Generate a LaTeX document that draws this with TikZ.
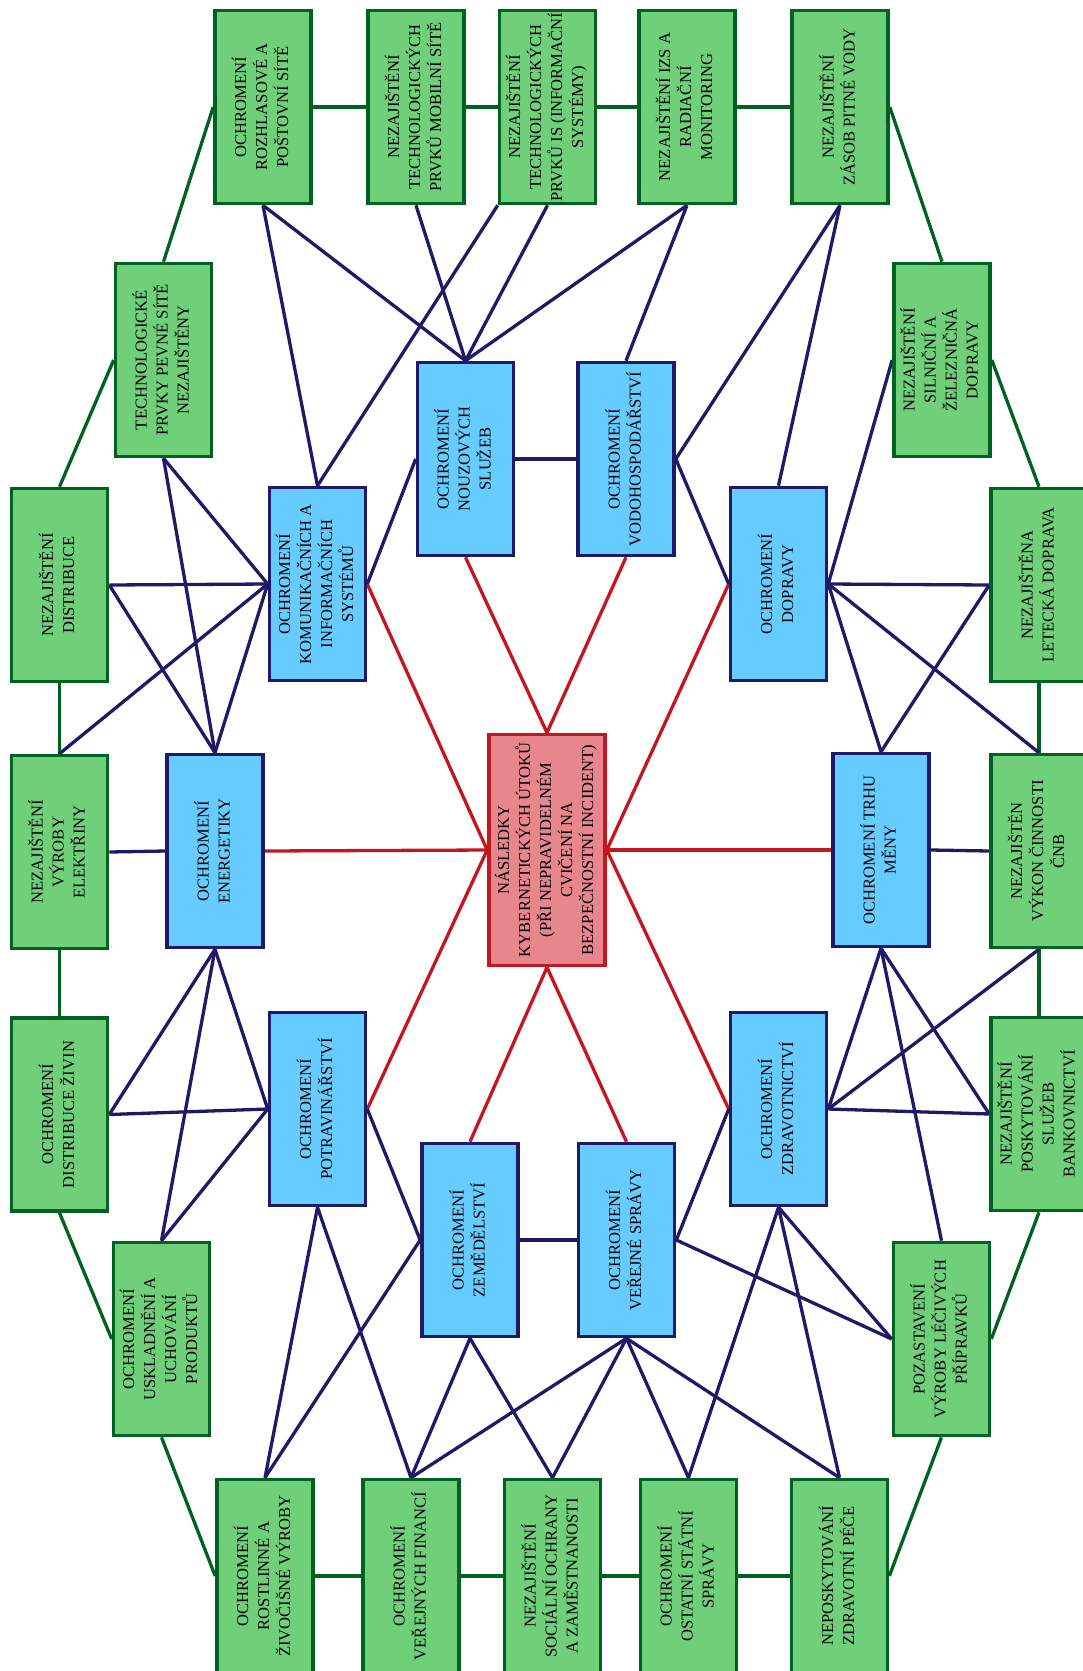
\documentclass[tikz,border=0pt]{standalone}
\usepackage{fontspec}
\setmainfont{Liberation Serif}
\usepackage{xcolor}
\usepackage{graphicx}
\usetikzlibrary{backgrounds}
\definecolor{GreenFill}{RGB}{112,208,122}
\definecolor{GreenLine}{RGB}{0,98,32}
\definecolor{BlueFill}{RGB}{102,204,255}
\definecolor{NavyLine}{RGB}{30,26,104}
\definecolor{RedFill}{RGB}{232,134,142}
\definecolor{RedLine}{RGB}{196,22,32}
\newcommand{\vlab}[1]{\rotatebox{90}{\begin{tabular}{@{}c@{}}#1\end{tabular}}}
\tikzset{%Global config
	color = black ,
	%Styles
	Box/.style={
		rectangle,
		line width=3.6pt,
		inner sep=0pt,
		minimum width=96pt,
		minimum height=193pt,
		font=\fontsize{16.6}{21}\selectfont,
	},
	GreenBox/.style={Box, draw=GreenLine, fill=GreenFill},
	BlueBox/.style={Box, draw=NavyLine, fill=BlueFill},
	HubBox/.style={
		Box, draw=RedLine, fill=RedFill,
		minimum width=116pt,
		minimum height=231pt,
	},
	GL/.style={draw=GreenLine, line width=3.3pt},
	NL/.style={draw=NavyLine, line width=3.3pt},
	RL/.style={draw=RedLine, line width=3.3pt},
}
\begin{document}
\begin{tikzpicture}[x=1pt,y=-1pt]
	\useasboundingbox (0,0) rectangle (1083,1671);
	% Outer ring
	\node[GreenBox] (rozhlas) at (263,107) {\vlab{OCHROMENÍ\\ROZHLASOVÉ A\\POŠTOVNÍ SÍTĚ}};
	\node[GreenBox] (mobil) at (416,107) {\vlab{NEZAJIŠTĚNÍ\\TECHNOLOGICKÝCH\\PRVKŮ MOBILNÍ SÍTĚ}};
	\node[GreenBox] (infsys) at (547.5,107) {\vlab{NEZAJIŠTĚNÍ\\TECHNOLOGICKÝCH\\PRVKŮ IS (INFORMAČNÍ\\SYSTÉMY)}};
	\node[GreenBox] (izs) at (687,107) {\vlab{NEZAJIŠTĚNÍ IZS A\\RADIAČNÍ\\MONITORING}};
	\node[GreenBox] (voda) at (840,107) {\vlab{NEZAJIŠTĚNÍ\\ZÁSOB PITNÉ VODY}};
	\node[GreenBox] (pevna) at (163.5,360) {\vlab{TECHNOLOGICKÉ\\PRVKY PEVNÉ SÍTĚ\\NEZAJIŠTĚNY}};
	\node[GreenBox] (silnice) at (942,360) {\vlab{NEZAJIŠTĚNÍ\\SILNIČNÍ A\\ŽELEZNIČNÁ\\DOPRAVY}};
	\node[GreenBox] (distr) at (59.5,585) {\vlab{NEZAJIŠTĚNÍ\\DISTRIBUCE}};
	\node[GreenBox] (elektr) at (59.5,852) {\vlab{NEZAJIŠTĚNÍ\\VÝROBY\\ELEKTŘINY}};
	\node[GreenBox] (ziviny) at (59.5,1114.5) {\vlab{OCHROMENÍ\\DISTRIBUCE ŽIVIN}};
	\node[GreenBox] (letecka) at (1039,585) {\vlab{NEZAJIŠTĚNA\\LETECKÁ DOPRAVA}};
	\node[GreenBox] (cnb) at (1039,851) {\vlab{NEZAJIŠTĚN\\VÝKON ČINNOSTI\\ČNB}};
	\node[GreenBox] (banky) at (1039,1114) {\vlab{NEZAJIŠTĚNÍ\\POSKYTOVÁNÍ\\SLUŽEB\\BANKOVNICTVÍ}};
	\node[GreenBox] (sklad) at (161.5,1339) {\vlab{OCHROMENÍ\\USKLADNĚNÍ A\\UCHOVÁNÍ\\PRODUKTŮ}};
	\node[GreenBox] (leciva) at (941.5,1339) {\vlab{POZASTAVENÍ\\VÝROBY LÉČIVÝCH\\PŘÍPRAVKŮ}};
	\node[GreenBox] (rostl) at (265,1576) {\vlab{OCHROMENÍ\\ROSTLINNÉ A\\ŽIVOČIŠNÉ VÝROBY}};
	\node[GreenBox] (financ) at (411,1576) {\vlab{OCHROMENÍ\\VEŘEJNÝCH FINANCÍ}};
	\node[GreenBox] (social) at (552.5,1576) {\vlab{NEZAJIŠTĚNÍ\\SOCIÁLNÍ OCHRANY\\A ZAMĚSTNANOSTI}};
	\node[GreenBox] (statni) at (688.5,1576) {\vlab{OCHROMENÍ\\OSTATNÍ STÁTNÍ\\SPRÁVY}};
	\node[GreenBox] (pece) at (839.5,1576) {\vlab{NEPOSKYTOVÁNÍ\\ZDRAVOTNÍ PÉČE}};
	% Inner ring
	\node[BlueBox] (komun) at (317.5,584) {\vlab{OCHROMENÍ\\KOMUNIKAČNÍCH A\\INFORMAČNÍCH\\SYSTÉMŮ}};
	\node[BlueBox] (nouz) at (465.5,459) {\vlab{OCHROMENÍ\\NOUZOVÝCH\\SLUŽEB}};
	\node[BlueBox] (vodoh) at (626,459) {\vlab{OCHROMENÍ\\VODOHOSPODÁŘSTVÍ}};
	\node[BlueBox] (dopr) at (778.5,584) {\vlab{OCHROMENÍ\\DOPRAVY}};
	\node[BlueBox] (energ) at (215,851) {\vlab{OCHROMENÍ\\ENERGETIKY}};
	\node[BlueBox] (trh) at (881,850) {\vlab{OCHROMENÍ TRHU\\MĚNY}};
	\node[BlueBox] (potrav) at (317.5,1109) {\vlab{OCHROMENÍ\\POTRAVINÁŘSTVÍ}};
	\node[BlueBox] (zemed) at (470,1240) {\vlab{OCHROMENÍ\\ZEMĚDĚLSTVÍ}};
	\node[BlueBox] (sprava) at (626.5,1240) {\vlab{OCHROMENÍ\\VEŘEJNÉ SPRÁVY}};
	\node[BlueBox] (zdrav) at (778.5,1109) {\vlab{OCHROMENÍ\\ZDRAVOTNICTVÍ}};
	% Centre
	\node[HubBox] (hub) at (547,850) {\vlab{NÁSLEDKY\\KYBERNETICKÝCH ÚTOKŮ\\(PŘI NEPRAVIDELNÉM\\CVIČENÍ NA\\BEZPEČNOSTNÍ INCIDENT)}};
	
	\begin{scope}[on background layer]
		% Ring links
		\draw[GL] (rozhlas.east) -- (mobil.west);
		\draw[GL] (mobil.east) -- (infsys.west);
		\draw[GL] (infsys.east) -- (izs.west);
		\draw[GL] (izs.east) -- (voda.west);
		\draw[GL] (rozhlas.west) -- (pevna.north);
		\draw[GL] (pevna.west) -- (distr.north);
		\draw[GL] (distr.south) -- (elektr.north);
		\draw[GL] (elektr.south) -- (ziviny.north);
		\draw[GL] (ziviny.south) -- (sklad.west);
		\draw[GL] (sklad.south) -- (rostl.west);
		\draw[GL] (rostl.east) -- (financ.west);
		\draw[GL] (financ.east) -- (social.west);
		\draw[GL] (social.east) -- (statni.west);
		\draw[GL] (statni.east) -- (pece.west);
		\draw[GL] (pece.east) -- (leciva.south);
		\draw[GL] (leciva.east) -- (banky.south);
		\draw[GL] (banky.north) -- (cnb.south);
		\draw[GL] (cnb.north) -- (letecka.south);
		\draw[GL] (letecka.north) -- (silnice.east);
		\draw[GL] (silnice.north) -- (voda.east);
		% Centre links
		\draw[RL] (hub.west) -- (komun.east);
		\draw[RL] (hub.west) -- (energ.east);
		\draw[RL] (hub.west) -- (potrav.east);
		\draw[RL] (hub.north) -- (nouz.south);
		\draw[RL] (hub.north) -- (vodoh.south);
		\draw[RL] (hub.east) -- (dopr.west);
		\draw[RL] (hub.east) -- (trh.west);
		\draw[RL] (hub.east) -- (zdrav.west);
		\draw[RL] (hub.south) -- (zemed.north);
		\draw[RL] (hub.south) -- (sprava.north);
		% Dependencies
		\draw[NL] (nouz.east) -- (vodoh.west);
		\draw[NL] (zemed.east) -- (sprava.west);
		\draw[NL] (energ.west) -- (elektr.east);
		\draw[NL] (trh.east) -- (cnb.west);
		\draw[NL] (komun.west) -- (distr.east);
		\draw[NL] (komun.west) -- (pevna.south);
		\draw[NL] (komun.west) -- (elektr.north);
		\draw[NL] (komun.west) -- (energ.north);
		\draw[NL] (komun.north) -- (rozhlas.south);
		\draw[NL] (komun.north) -- (infsys.south west);
		\draw[NL] (komun.east) -- (nouz.west);
		\draw[NL] (pevna.south) -- (energ.north);
		\draw[NL] (distr.east) -- (energ.north);
		\draw[NL] (energ.south) -- (ziviny.east);
		\draw[NL] (energ.south) -- (sklad.north);
		\draw[NL] (energ.south) -- (potrav.west);
		\draw[NL] (potrav.west) -- (ziviny.east);
		\draw[NL] (potrav.west) -- (sklad.north);
		\draw[NL] (potrav.east) -- (zemed.west);
		\draw[NL] (potrav.south) -- (rostl.north);
		\draw[NL] (potrav.south) -- (financ.north);
		\draw[NL] (zemed.west) -- (rostl.north);
		\draw[NL] (zemed.south) -- (financ.north);
		\draw[NL] (zemed.south) -- (social.north);
		\draw[NL] (sprava.east) -- (zdrav.west);
		\draw[NL] (sprava.east) -- (leciva.west);
		\draw[NL] (sprava.south) -- (financ.north);
		\draw[NL] (sprava.south) -- (social.north);
		\draw[NL] (sprava.south) -- (statni.north);
		\draw[NL] (sprava.south) -- (pece.north);
		\draw[NL] (zdrav.east) -- (banky.west);
		\draw[NL] (zdrav.east) -- (cnb.south);
		\draw[NL] (zdrav.east) -- (trh.south);
		\draw[NL] (zdrav.south) -- (statni.north);
		\draw[NL] (zdrav.south) -- (pece.north);
		\draw[NL] (zdrav.south) -- (leciva.west);
		\draw[NL] (trh.south) -- (leciva.north);
		\draw[NL] (trh.south) -- (banky.west);
		\draw[NL] (trh.north) -- (dopr.east);
		\draw[NL] (trh.north) -- (letecka.west);
		\draw[NL] (dopr.east) -- (letecka.west);
		\draw[NL] (dopr.east) -- (silnice.west);
		\draw[NL] (dopr.east) -- (cnb.north);
		\draw[NL] (dopr.north) -- (voda.south);
		\draw[NL] (dopr.west) -- (vodoh.east);
		\draw[NL] (vodoh.east) -- (voda.south);
		\draw[NL] (vodoh.north) -- (izs.south);
		\draw[NL] (nouz.north) -- (rozhlas.south);
		\draw[NL] (nouz.north) -- (mobil.south);
		\draw[NL] (nouz.north) -- (infsys.south);
		\draw[NL] (nouz.north) -- (izs.south);
	\end{scope}
\end{tikzpicture}
\end{document}
